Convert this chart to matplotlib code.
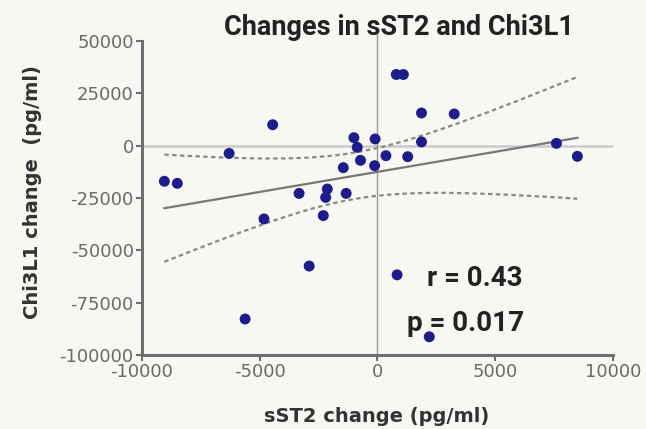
import numpy as np
import matplotlib
matplotlib.use("Agg")
import matplotlib.pyplot as plt
from matplotlib import font_manager

sst2_change = [-9050, -8500, -6300, -5620, -4450, -4820, -3330, -2900, -2300, -2200,
               -2130, -1450, -1330, -1000, -860, -720, -100, -120, 360, 800,
               1100, 834, 1285, 1870, 1870, 2200, 3260, 7600, 8490]
chi3l1_change = [-17000, -18000, -3700, -82800, 10000, -35000, -22800, -57500, -33400, -24700,
                 -20700, -10500, -22800, 3800, -800, -7000, 3200, -9560, -4780, 34000,
                 34000, -61700, -5260, 15600, 1800, -91300, 15150, 1100, -5100]
x_ticks = [-10000, -5000, 0, 5000, 10000]
y_ticks = [-100000, -75000, -50000, -25000, 0, 25000, 50000]
title = "Changes in sST2 and Chi3L1"
stats_r = "r = 0.43"
stats_p = "p = 0.017"
x_label = "sST2 change (pg/ml)"
y_label = "Chi3L1 change  (pg/ml)"

names = {f.name for f in font_manager.fontManager.ttflist}
narrow = "Liberation Sans Narrow" if "Liberation Sans Narrow" in names else "Roboto"

bg = "#f7f7f3"
fig = plt.figure(figsize=(6.46, 4.29), dpi=100, facecolor=bg)
ax = fig.add_axes([0.2198, 0.1725, 0.729, 0.7319], facecolor=bg)

x = np.array(sst2_change, float)
y = np.array(chi3l1_change, float)
n = len(x)
slope, intercept = np.polyfit(x, y, 1)
xs = np.linspace(x.min(), x.max(), 200)
yfit = slope * xs + intercept
resid = y - (slope * x + intercept)
s = np.sqrt(np.sum(resid ** 2) / (n - 2))
sxx = np.sum((x - x.mean()) ** 2)
tval = 2.045
ci = tval * s * np.sqrt(1 / n + (xs - x.mean()) ** 2 / sxx)

ax.axhline(0, color="#cacaca", lw=1.8, zorder=1)
ax.plot([0, 0], [-100000, 55000], color="#9a9a9a", lw=1.0, zorder=1, clip_on=False)
ax.plot(xs, yfit, color="#777777", lw=1.6, zorder=2)
ax.plot(xs, yfit + ci, color="#8a8a80", lw=1.6, ls=(0, (2.0, 1.5)), zorder=2)
ax.plot(xs, yfit - ci, color="#8a8a80", lw=1.6, ls=(0, (2.0, 1.5)), zorder=2)
ax.scatter(x, y, s=62, color="#1c1c8a", edgecolors="none", zorder=3)

ax.set_xlim(-10000, 10000)
ax.set_ylim(-100000, 50000)
ax.set_xticks(x_ticks)
ax.set_yticks(y_ticks)
ax.set_xticklabels([str(v) for v in x_ticks])
ax.set_yticklabels([str(v) for v in y_ticks])
for sp in ("top", "right"):
    ax.spines[sp].set_visible(False)
for sp in ("left", "bottom"):
    ax.spines[sp].set_color("#6e6e6e")
    ax.spines[sp].set_linewidth(2.2)
ax.tick_params(axis="both", colors="#6e6e6e", labelcolor="#6a6a6a", labelsize=13,
               width=1.5, length=4, direction="out", pad=2)

fig.text(0.5836, 0.03, x_label, fontsize=14, fontweight="bold", color="#333333",
         ha="center", va="center")
fig.text(0.05, 0.552, y_label, fontsize=14, fontweight="bold", color="#333333",
         ha="center", va="center", rotation=90)

fig.text(0.617, 0.935, title, fontsize=19.5, fontweight="bold", family=narrow,
         color="#222222", ha="center", va="center")
fig.text(0.735, 0.35, stats_r, fontsize=20, fontweight="bold",
         family=narrow, color="#222222", ha="center", va="center")
fig.text(0.72, 0.245, stats_p, fontsize=20, fontweight="bold",
         family=narrow, color="#222222", ha="center", va="center")

fig.savefig("out.png", dpi=100, facecolor=bg)
